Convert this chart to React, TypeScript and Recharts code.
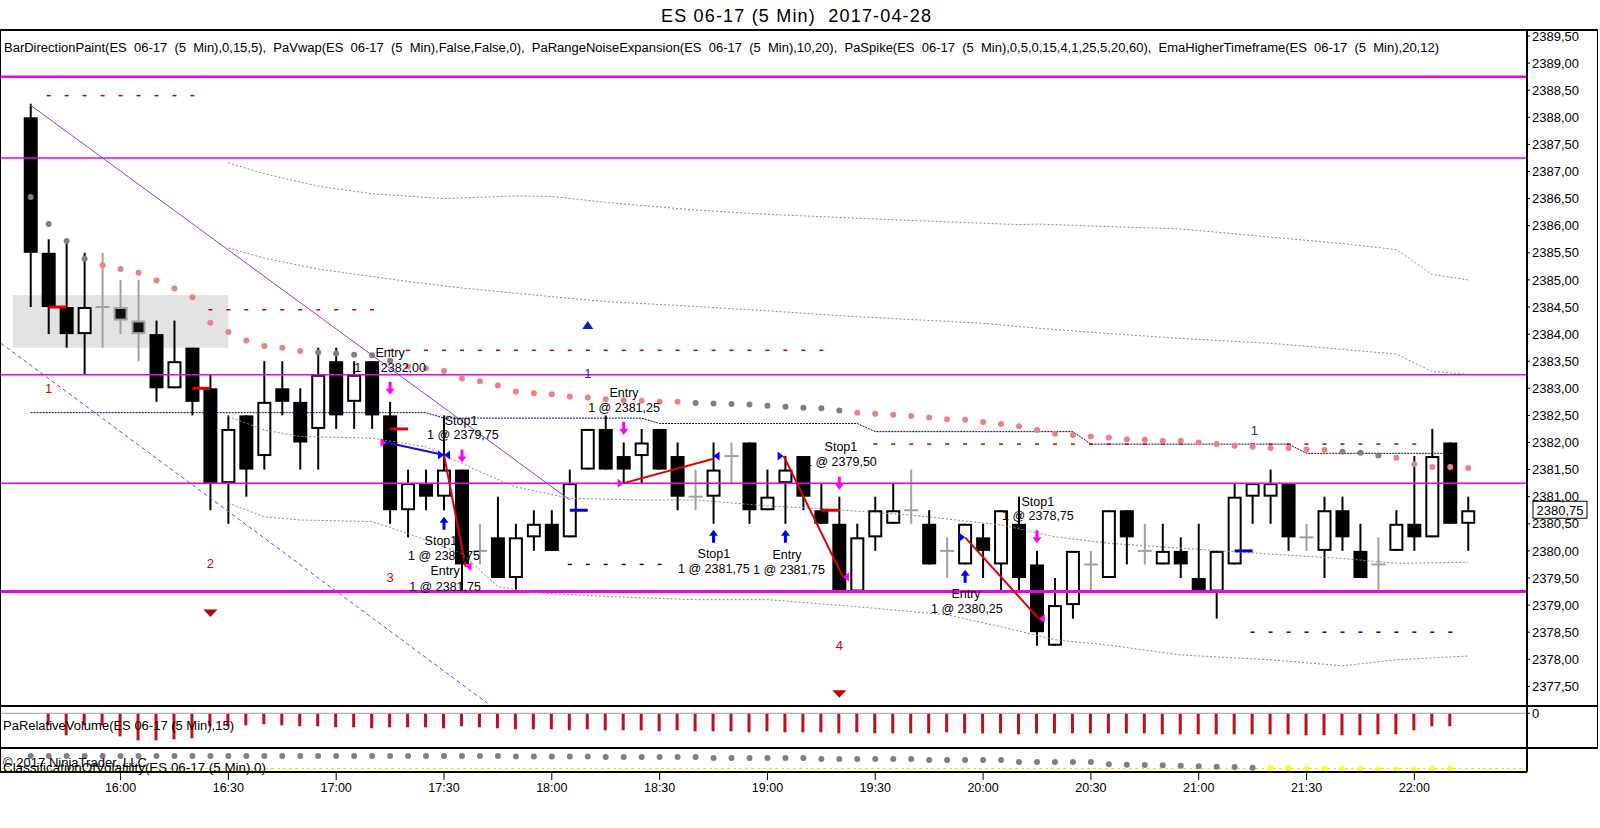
import React from 'react';
import {
  ComposedChart, Bar, Line, Scatter, XAxis, YAxis,
  ReferenceLine, ReferenceArea, ReferenceDot,
} from 'recharts';

const FONT = 'Arial, "Liberation Sans", Helvetica, sans-serif';

// ---------- categories ----------
const barTimes = [
  '15:35', '15:40', '15:45', '15:50', '15:55',
  '16:00', '16:05', '16:10', '16:15', '16:20', '16:25', '16:30', '16:35', '16:40', '16:45', '16:50', '16:55',
  '17:00', '17:05', '17:10', '17:15', '17:20', '17:25', '17:30', '17:35', '17:40', '17:45', '17:50', '17:55',
  '18:00', '18:05', '18:10', '18:15', '18:20', '18:25', '18:30', '18:35', '18:40', '18:45', '18:50', '18:55',
  '19:00', '19:05', '19:10', '19:15', '19:20', '19:25', '19:30', '19:35', '19:40', '19:45', '19:50', '19:55',
  '20:00', '20:05', '20:10', '20:15', '20:20', '20:25', '20:30', '20:35', '20:40', '20:45', '20:50', '20:55',
  '21:00', '21:05', '21:10', '21:15', '21:20', '21:25', '21:30', '21:35', '21:40', '21:45', '21:50', '21:55',
  '22:00', '22:05', '22:10', '22:15',
];
const timeTicks = [6, 12, 18, 24, 30, 36, 42, 48, 54, 60, 66, 72, 78];
const priceTicks = [
  2377.5, 2378, 2378.5, 2379, 2379.5, 2380, 2380.5, 2381, 2381.5, 2382, 2382.5, 2383, 2383.5,
  2384, 2384.5, 2385, 2385.5, 2386, 2386.5, 2387, 2387.5, 2388, 2388.5, 2389, 2389.5,
];

// ---------- OHLC ----------
const opens = [
  2388, 2385.5, 2384.5, 2384, 2384.5, 2384.5, 2384.25, 2384, 2383, 2383.75,
  2383, 2381.25, 2382.5, 2381.75, 2383, 2382.75, 2382.25, 2383.5, 2382.75, 2383.5,
  2382.5, 2380.75, 2381.25, 2381, 2381.5, 2380, 2380.25, 2379.5, 2380.25, 2380.5,
  2380.25, 2381.5, 2382.25, 2381.75, 2381.75, 2382.25, 2381.75, 2381, 2381, 2381.75,
  2382, 2380.75, 2381.25, 2381.75, 2380.75, 2380.5, 2379.25, 2380.25, 2380.5, 2380.75,
  2380.5, 2380, 2379.75, 2380.25, 2379.75, 2380.5, 2379.75, 2378.25, 2379, 2379.75,
  2379.5, 2380.75, 2380, 2379.75, 2380, 2379.5, 2379.25, 2379.75, 2381, 2381,
  2381.25, 2380.25, 2380, 2380.75, 2380, 2379.75, 2380, 2380.5, 2380.25, 2382, 2380.5,
];
const highs = [
  2388.25, 2385.75, 2385.75, 2385.5, 2385.5, 2385, 2385, 2384.25, 2384.25, 2383.75,
  2383.25, 2382.5, 2382.5, 2383.5, 2383.5, 2383, 2383.75, 2383.75, 2383.5, 2383.5,
  2382.75, 2381.5, 2381.5, 2382.5, 2381.5, 2380.5, 2381, 2380.5, 2380.75, 2380.75,
  2381.5, 2382.25, 2382.5, 2382, 2382.25, 2382.25, 2382, 2381.5, 2382, 2382,
  2382, 2381.5, 2381.75, 2381.75, 2381.25, 2381, 2380.5, 2381, 2381.25, 2381.5,
  2380.75, 2380.25, 2380.5, 2380.5, 2380.75, 2381, 2380, 2379.5, 2380, 2380,
  2380.75, 2380.75, 2380.5, 2380.5, 2380.25, 2380.5, 2380, 2381.25, 2381.25, 2381.5,
  2381.25, 2380.5, 2381, 2381, 2380.5, 2380.25, 2380.75, 2381.75, 2382.25, 2382, 2381,
];
const lows = [
  2384.5, 2384, 2383.75, 2383.25, 2383.75, 2384, 2383.5, 2382.75, 2383, 2382.5,
  2380.75, 2380.5, 2381, 2381.5, 2382.5, 2381.5, 2381.5, 2382.25, 2382.25, 2382.25,
  2380.5, 2380.25, 2380.75, 2380.75, 2379.25, 2379.75, 2379.5, 2379.25, 2380, 2380,
  2380.25, 2381.5, 2381.5, 2381.25, 2381.25, 2381.5, 2380.75, 2380.75, 2380.5, 2381.25,
  2380.5, 2380.75, 2380.5, 2380.75, 2380.5, 2379.25, 2379.25, 2380, 2380.5, 2380.5,
  2379.75, 2379.5, 2379.75, 2379.5, 2379.25, 2379.25, 2378.25, 2378.25, 2378.75, 2379.25,
  2379.5, 2379.75, 2379.75, 2379.75, 2379.5, 2379.25, 2378.75, 2379.75, 2380.5, 2380.5,
  2380, 2380, 2379.5, 2380, 2379.5, 2379.25, 2380, 2380, 2380.25, 2380.5, 2380,
];
const closes = [
  2385.5, 2384.5, 2384, 2384.5, 2384.5, 2384.25, 2384, 2383, 2383.5, 2382.75,
  2381.25, 2382.25, 2381.5, 2382.75, 2382.75, 2382, 2383.25, 2382.5, 2383.25, 2382.5,
  2380.75, 2381.25, 2381, 2381.5, 2379.75, 2380, 2379.5, 2380.25, 2380.5, 2380,
  2381.25, 2382.25, 2381.5, 2381.5, 2382, 2381.5, 2381, 2381, 2381.5, 2381.75,
  2380.75, 2381, 2381.5, 2381, 2380.5, 2379.25, 2380.25, 2380.75, 2380.75, 2380.75,
  2379.75, 2380, 2380.5, 2380, 2380.75, 2379.5, 2378.5, 2379, 2380, 2379.75,
  2380.75, 2380.25, 2380, 2380, 2379.75, 2379.25, 2380, 2381, 2381.25, 2381.25,
  2380.25, 2380.25, 2380.75, 2380.25, 2379.5, 2379.75, 2380.5, 2380.25, 2381.75, 2380.5, 2380.75,
];
const grayPaintBars = [6, 7];

// ---------- EmaHigherTimeframe dots ----------
const emaValues = [
  2386.53, 2386.03, 2385.72, 2385.39, 2385.27, 2385.20, 2385.13, 2384.99, 2384.84, 2384.68,
  2384.21, 2384.04, 2383.88, 2383.78, 2383.75, 2383.69, 2383.66, 2383.64, 2383.62, 2383.61,
  2383.51, 2383.40, 2383.37, 2383.32, 2383.18, 2383.13, 2383.05, 2382.94, 2382.91, 2382.89,
  2382.85, 2382.83, 2382.80, 2382.78, 2382.77, 2382.75, 2382.75, 2382.73, 2382.72, 2382.71,
  2382.70, 2382.68, 2382.66, 2382.64, 2382.63, 2382.59, 2382.55, 2382.53, 2382.51, 2382.49,
  2382.46, 2382.43, 2382.42, 2382.38, 2382.34, 2382.30, 2382.23, 2382.16, 2382.14, 2382.11,
  2382.09, 2382.06, 2382.05, 2382.03, 2382.03, 2382.00, 2381.97, 2381.94, 2381.92, 2381.90,
  2381.90, 2381.87, 2381.86, 2381.83, 2381.81, 2381.76, 2381.72, 2381.60, 2381.55, 2381.55, 2381.53,
];
const emaGrayBars = [1, 2, 3, 4, 17, 18, 19, 20, 21, 38, 39, 40, 41, 42, 43, 44, 45, 46, 74, 75, 76];

// ---------- higher-timeframe dotted step line ----------
const htfSteps = [
  { from: 1, to: 23, v: 2382.55 },
  { from: 24, to: 35, v: 2382.45 },
  { from: 36, to: 47, v: 2382.35 },
  { from: 48, to: 59, v: 2382.2 },
  { from: 60, to: 71, v: 2381.97 },
  { from: 72, to: 80, v: 2381.8 },
];

// ---------- VWAP and bands (bar, price) ----------
const bandUpper2: [number, number][] = [
  [12, 2387.16], [14, 2386.96], [17, 2386.73], [20, 2386.59], [24, 2386.5], [28, 2386.55], [30, 2386.54],
  [33, 2386.43], [38, 2386.29], [42, 2386.21], [49, 2386.11], [56, 2386.02], [57, 2386.03], [65, 2385.94],
  [70, 2385.79], [74, 2385.67], [77, 2385.56], [79, 2385.1], [81, 2385.0],
];
const bandUpper1: [number, number][] = [
  [12, 2385.59], [14, 2385.4], [17, 2385.2], [22, 2384.97], [25, 2384.85], [30, 2384.69], [33, 2384.6],
  [38, 2384.51], [42, 2384.43], [47, 2384.32], [54, 2384.2], [57, 2384.11], [61, 2384.01], [65, 2383.92],
  [70, 2383.83], [74, 2383.72], [77, 2383.63], [79, 2383.31], [81, 2383.26],
];
const vwapLine: [number, number][] = [
  [12, 2382.48], [14, 2382.23], [16, 2382.11], [20, 2382.08], [23, 2381.92], [26, 2381.46], [28, 2381.18],
  [31, 2380.97], [35, 2380.94], [38, 2380.94], [42, 2380.83], [45, 2380.78], [50, 2380.66], [55, 2380.48],
  [58, 2380.26], [61, 2380.14], [65, 2380.05], [70, 2379.94], [74, 2379.86], [77, 2379.77], [81, 2379.79],
];
const bandLower1: [number, number][] = [
  [12, 2380.88], [14, 2380.63], [16, 2380.57], [20, 2380.54], [22, 2380.32], [25, 2379.95], [27, 2379.34],
  [29, 2379.23], [33, 2379.16], [38, 2379.1], [42, 2379.1], [47, 2378.97], [52, 2378.82], [55, 2378.6],
  [58, 2378.36], [61, 2378.26], [65, 2378.08], [70, 2377.99], [74, 2377.88], [77, 2377.99], [81, 2378.06],
];

// ---------- levels & dashed level markers ----------
const magentaLevels = [2388.75, 2387.25, 2383.25, 2381.25, 2379.25];
const magentaWidths = [2.5, 1.5, 1.5, 1.5, 3];
const dashLevels = [
  { from: 2, to: 10, p: 2388.4, color: '#C00000' },
  { from: 11, to: 20, p: 2384.45, color: '#C00000' },
  { from: 21, to: 45, p: 2383.7, color: '#C00000' },
  { from: 48, to: 78, p: 2381.97, color: '#C00000' },
  { from: 31, to: 36, p: 2379.75, color: '#000080' },
  { from: 69, to: 80, p: 2378.5, color: '#000080' },
];
const openingRange = { from: 0, to: 12, low: 2383.75, high: 2384.72 };

// trend lines (bar, price)
const trendSolid = [{ i: 0.96, p: 2388.23 }, { i: 31.0, p: 2380.94 }];
const trendDashed = [{ i: -0.65, p: 2383.83 }, { i: 26.42, p: 2377.19 }];

// short horizontal ticks from bar i to bar i+1
const redTicks = [{ i: 2, p: 2384.5 }, { i: 10, p: 2383.0 }, { i: 21, p: 2382.25 }, { i: 45, p: 2380.75 }];
const blueTicks = [{ i: 31, p: 2380.75 }, { i: 68, p: 2380.0 }];

// ---------- trades ----------
const tradeSegments = [
  { i1: 20.8, p1: 2382.0, i2: 24, p2: 2381.77, color: '#1010E0' },
  { i1: 24, p1: 2381.77, i2: 25.2, p2: 2379.71, color: '#E00000' },
  { i1: 34, p1: 2381.25, i2: 39, p2: 2381.7, color: '#E00000' },
  { i1: 42.9, p1: 2381.75, i2: 46.2, p2: 2379.52, color: '#E00000' },
  { i1: 53, p1: 2380.25, i2: 57.1, p2: 2378.75, color: '#E00000' },
];
const tradeMarkers = [
  { i: 20.8, p: 2382.0, dir: 'r', color: '#FF00FF' },
  { i: 24, p: 2381.77, dir: 'r', color: '#0000FF' },
  { i: 24, p: 2381.77, dir: 'l', color: '#0000FF' },
  { i: 25.2, p: 2379.71, dir: 'l', color: '#FF00FF' },
  { i: 34, p: 2381.25, dir: 'r', color: '#FF00FF' },
  { i: 39, p: 2381.75, dir: 'l', color: '#0000FF' },
  { i: 42.9, p: 2381.75, dir: 'r', color: '#0000FF' },
  { i: 46.2, p: 2379.52, dir: 'l', color: '#FF00FF' },
  { i: 53, p: 2380.25, dir: 'r', color: '#0000FF' },
  { i: 57.1, p: 2378.75, dir: 'l', color: '#FF00FF' },
];
const arrowsDown = [
  { i: 21, p: 2383.0 }, { i: 25, p: 2381.75 }, { i: 34, p: 2382.26 }, { i: 46, p: 2381.25 }, { i: 57, p: 2380.26 },
];
const arrowsUp = [
  { i: 24, p: 2380.51 }, { i: 39, p: 2380.27 }, { i: 43, p: 2380.27 }, { i: 53, p: 2379.53 },
];
const tradeNotes = [
  { i: 21.0, p: 2383.65, t: 'Entry' },
  { i: 21.0, p: 2383.37, t: '1 @ 2382,00' },
  { i: 24.95, p: 2382.4, t: 'Stop1' },
  { i: 25.05, p: 2382.14, t: '1 @ 2379,75' },
  { i: 23.83, p: 2380.18, t: 'Stop1' },
  { i: 24.0, p: 2379.91, t: '1 @ 2381,75' },
  { i: 24.06, p: 2379.63, t: 'Entry' },
  { i: 24.06, p: 2379.33, t: '1 @ 2381,75' },
  { i: 34.02, p: 2382.91, t: 'Entry' },
  { i: 34.02, p: 2382.64, t: '1 @ 2381,25' },
  { i: 39.02, p: 2379.94, t: 'Stop1' },
  { i: 39.02, p: 2379.67, t: '1 @ 2381,75' },
  { i: 43.09, p: 2379.92, t: 'Entry' },
  { i: 43.2, p: 2379.65, t: '1 @ 2381,75' },
  { i: 46.09, p: 2381.92, t: 'Stop1' },
  { i: 46.09, p: 2381.64, t: '1 @ 2379,50' },
  { i: 53.05, p: 2379.2, t: 'Entry' },
  { i: 53.1, p: 2378.93, t: '1 @ 2380,25' },
  { i: 57.05, p: 2380.9, t: 'Stop1' },
  { i: 57.05, p: 2380.64, t: '1 @ 2378,75' },
];
const spikeCounts = [
  { i: 2, p: 2382.99, t: '1' }, { i: 11, p: 2379.76, t: '2' }, { i: 21, p: 2379.51, t: '3' }, { i: 46, p: 2378.25, t: '4' },
];
const blueCounts = [{ i: 32, p: 2383.28, t: '1' }, { i: 69.1, p: 2382.23, t: '1' }];
const redTriangles = [{ i: 11, p: 2378.85 }, { i: 46, p: 2377.36 }];
const blueTriangles = [{ i: 32, p: 2384.17 }];

// ---------- lower panels ----------
const relVolume = [
  null, -12, -22, -12, -12, -23, -27, -27, -26, -25,
  -13, -13, -12, -11, -12, -13, -13, -14, -14, -15,
  -14, -14, -14, -15, -13, -14, -15, -16, -16, -16,
  -17, -16, -17, -17, -17, -18, -17, -18, -18, -18,
  -19, -18, -19, -19, -19, -20, -19, -20, -20, -20,
  -20, -19, -20, -20, -20, -21, -20, -20, -20, -20,
  -20, -20, -20, -21, -21, -21, -21, -21, -21, -21,
  -21, -22, -22, -22, -22, -21, -21, -17, -13, -13, null,
];
const volatilityClass = [
  16, 16, 16, 16, 16, 16, 16, 16, 16, 16,
  16, 16, 16, 16, 16, 16, 16, 16, 16, 16,
  16, 16, 16, 16, 16, 16, 16, 15.5, 15.5, 15.5,
  15.5, 15.5, 15, 15, 15, 15, 15, 15, 14, 14,
  14, 14, 14, 14, 13, 13, 13, 13, 13, 13,
  12, 12, 12, 12, 12, 10, 10, 10, 10, 10,
  7.7, 7.3, 7, 6.7, 6.3, 5.7, 5.3, 5, 4.3, 3.7,
  3.7, 2.7, 2.7, 2.7, 2.7, 2.3, 2.3, 2.3, 2.7, 2.7, null,
];
const yellowFromBar = 70;

// ---------- derived tables ----------
const X_DOMAIN: [number, number] = [-0.653, 84.27];
const Y_DOMAIN: [number, number] = [2377.138, 2389.611];

const candles = barTimes.map((t, k) => ({
  i: k + 1, t, o: opens[k], h: highs[k], l: lows[k], c: closes[k], g: grayPaintBars.includes(k + 1),
}));
const emaPts = emaValues.map((v, k) => ({ i: k + 1, v, col: emaGrayBars.includes(k + 1) ? '#808080' : '#F08080' }));
const htfPts: { i: number; v: number }[] = [];
htfSteps.forEach((s) => { for (let b = s.from; b <= s.to; b++) htfPts.push({ i: b, v: s.v }); });
const dashPts: { i: number; v: number; col: string }[] = [];
dashLevels.forEach((d) => { for (let b = d.from; b <= d.to; b++) dashPts.push({ i: b, v: d.p, col: d.color }); });
const toPts = (arr: [number, number][]) => arr.map(([i, v]) => ({ i, v }));
const volPts = relVolume.map((v, k) => ({ i: k + 1, v })).filter((d) => d.v !== null);
const clsPts = volatilityClass
  .map((v, k) => ({ i: k + 1, v, col: k + 1 >= yellowFromBar ? '#FFFF00' : '#808080' }))
  .filter((d) => d.v !== null);

const fmtPrice = (v: number) => v.toFixed(2).replace('.', ',');
const fmtTime = (v: number) => barTimes[Math.round(v) - 1] || '';

// ---------- shapes ----------
function CandleShape(props: any) {
  const { x, y, width, height, payload } = props;
  if (!payload || !isFinite(x) || !isFinite(y)) return null;
  const top = Math.min(y, y + height);
  const span = Math.abs(height);
  const { o, h, l, c, g } = payload;
  const cx = x + width / 2;
  const py = (p: number) => top + ((h - p) / (h - l)) * span;
  const yO = py(o);
  const yC = py(c);
  const yH = top;
  const yL = top + span;
  const half = 7;
  if (o === c) {
    return (
      <g>
        <line x1={cx} x2={cx} y1={yH} y2={yL} stroke="#A0A0A0" strokeWidth={2} />
        <line x1={cx - half} x2={cx + half} y1={yO} y2={yO} stroke="#A0A0A0" strokeWidth={2} />
      </g>
    );
  }
  if (c > o) {
    return (
      <g>
        <line x1={cx} x2={cx} y1={yH} y2={yL} stroke="#000" strokeWidth={2} />
        <rect x={cx - half + 1} y={yC + 1} width={2 * half - 2} height={Math.max(0, yO - yC - 2)} fill="#fff" stroke="#000" strokeWidth={2} />
      </g>
    );
  }
  const wc = g ? '#A0A0A0' : '#000';
  return (
    <g>
      <line x1={cx} x2={cx} y1={yH} y2={yL} stroke={wc} strokeWidth={2} />
      {g ? (
        <rect x={cx - half + 1} y={yO + 1} width={2 * half - 2} height={Math.max(0, yC - yO - 2)} fill="#111" stroke={wc} strokeWidth={2} />
      ) : (
        <rect x={cx - half} y={yO} width={2 * half} height={yC - yO} fill="#000" />
      )}
    </g>
  );
}

const DotShape = (r: number) => (p: any) =>
  isFinite(p.cx) && isFinite(p.cy) ? <circle cx={p.cx} cy={p.cy} r={r} fill={p.payload?.col || '#808080'} /> : <g />;

const DashShape = (p: any) =>
  isFinite(p.cx) && isFinite(p.cy) ? (
    <line x1={p.cx - 2} x2={p.cx + 2} y1={p.cy} y2={p.cy} stroke={p.payload?.col || '#C00000'} strokeWidth={1.5} />
  ) : <g />;

const textShape = (t: string, color: string, size: number) => (p: any) => (
  <text x={p.cx} y={p.cy} textAnchor="middle" dominantBaseline="central" fill={color} fontSize={size} fontFamily={FONT}>
    {t}
  </text>
);

const triDown = (color: string, w: number, h: number) => (p: any) => (
  <path d={`M${p.cx - w / 2},${p.cy - h / 2} L${p.cx + w / 2},${p.cy - h / 2} L${p.cx},${p.cy + h / 2} Z`} fill={color} stroke={color} strokeWidth={0.5} />
);
const triUp = (color: string, w: number, h: number) => (p: any) => (
  <path d={`M${p.cx - w / 2},${p.cy + h / 2} L${p.cx + w / 2},${p.cy + h / 2} L${p.cx},${p.cy - h / 2} Z`} fill={color} />
);
const sideTri = (dir: string, color: string) => (p: any) =>
  dir === 'r' ? (
    <path d={`M${p.cx - 6},${p.cy - 4.5} L${p.cx},${p.cy} L${p.cx - 6},${p.cy + 4.5} Z`} fill={color} />
  ) : (
    <path d={`M${p.cx + 6},${p.cy - 4.5} L${p.cx},${p.cy} L${p.cx + 6},${p.cy + 4.5} Z`} fill={color} />
  );
const arrowShape = (down: boolean, color: string) => (p: any) => {
  const { cx, cy } = p;
  if (down) {
    return (
      <g>
        <rect x={cx - 1.5} y={cy - 6.5} width={3} height={8} fill={color} />
        <path d={`M${cx - 4.5},${cy + 0.5} L${cx + 4.5},${cy + 0.5} L${cx},${cy + 6.5} Z`} fill={color} />
      </g>
    );
  }
  return (
    <g>
      <rect x={cx - 1.5} y={cy - 1.5} width={3} height={8} fill={color} />
      <path d={`M${cx - 4.5},${cy - 0.5} L${cx + 4.5},${cy - 0.5} L${cx},${cy - 6.5} Z`} fill={color} />
    </g>
  );
};
const priceBox = (label: string) => (p: any) => (
  <g>
    <rect x={p.cx + 6} y={p.cy - 9} width={54} height={17} fill="#fff" stroke="#000" strokeWidth={1} />
    <text x={p.cx + 33} y={p.cy} textAnchor="middle" dominantBaseline="central" fontSize={13} fontFamily={FONT} fill="#000">{label}</text>
  </g>
);

const tickStyle = { fill: '#000', fontSize: 13, fontFamily: FONT };
const grayBand = { stroke: '#8C8C8C', strokeWidth: 1, strokeDasharray: '2 2' };

export default function App() {
  const last = candles[candles.length - 1];
  return (
    <div style={{ position: 'absolute', left: 0, top: 0, width: 1600, height: 828, background: '#fff', fontFamily: FONT, overflow: 'hidden' }}>
      {/* main price panel */}
      <div style={{ position: 'absolute', left: 0, top: 0 }}>
        <ComposedChart width={1600} height={708} data={candles} margin={{ top: 30, right: 3, bottom: 2, left: 1 }}>
          <XAxis type="number" dataKey="i" domain={X_DOMAIN} allowDataOverflow hide />
          <YAxis
            orientation="right" type="number" domain={Y_DOMAIN} allowDataOverflow ticks={priceTicks} interval={0}
            tickFormatter={fmtPrice} width={70} tickSize={3} tickMargin={2}
            axisLine={{ stroke: '#000' }} tickLine={{ stroke: '#000' }} tick={tickStyle}
          />
          <ReferenceArea x1={openingRange.from} x2={openingRange.to} y1={openingRange.low} y2={openingRange.high} fill="#E3E3E3" fillOpacity={1} stroke="none" />
          {magentaLevels.map((p, k) => (
            <ReferenceLine key={'m' + k} y={p} stroke="#EE00EE" strokeWidth={magentaWidths[k]} />
          ))}
          <Line data={toPts(bandUpper2)} dataKey="v" {...grayBand} dot={false} isAnimationActive={false} />
          <Line data={toPts(bandUpper1)} dataKey="v" {...grayBand} dot={false} isAnimationActive={false} />
          <Line data={toPts(vwapLine)} dataKey="v" {...grayBand} dot={false} isAnimationActive={false} />
          <Line data={toPts(bandLower1)} dataKey="v" {...grayBand} dot={false} isAnimationActive={false} />
          <Line data={htfPts} dataKey="v" stroke="#000080" strokeWidth={1} strokeDasharray="2 1" dot={false} isAnimationActive={false} />
          <ReferenceLine segment={[{ x: trendSolid[0].i, y: trendSolid[0].p }, { x: trendSolid[1].i, y: trendSolid[1].p }]} stroke="#8A3BE8" strokeWidth={1} ifOverflow="visible" />
          <ReferenceLine segment={[{ x: trendDashed[0].i, y: trendDashed[0].p }, { x: trendDashed[1].i, y: trendDashed[1].p }]} stroke="#8A3BE8" strokeWidth={1} strokeDasharray="4 3" ifOverflow="visible" />
          <Scatter data={dashPts} dataKey="v" shape={DashShape} isAnimationActive={false} />
          <Bar dataKey={(d: any) => [d.l, d.h]} barSize={14} shape={CandleShape} isAnimationActive={false} />
          {redTicks.map((d, k) => (
            <ReferenceLine key={'rt' + k} segment={[{ x: d.i, y: d.p }, { x: d.i + 1, y: d.p }]} stroke="#E00000" strokeWidth={3} />
          ))}
          {blueTicks.map((d, k) => (
            <ReferenceLine key={'bt' + k} segment={[{ x: d.i, y: d.p }, { x: d.i + 1, y: d.p }]} stroke="#0000E0" strokeWidth={3} />
          ))}
          <Scatter data={emaPts} dataKey="v" shape={DotShape(3)} isAnimationActive={false} />
          {tradeSegments.map((s, k) => (
            <ReferenceLine key={'ts' + k} segment={[{ x: s.i1, y: s.p1 }, { x: s.i2, y: s.p2 }]} stroke={s.color} strokeWidth={2} />
          ))}
          {tradeMarkers.map((m, k) => (
            <ReferenceDot key={'tm' + k} x={m.i} y={m.p} r={1} shape={sideTri(m.dir, m.color)} ifOverflow="visible" />
          ))}
          {arrowsDown.map((a, k) => (
            <ReferenceDot key={'ad' + k} x={a.i} y={a.p} r={1} shape={arrowShape(true, '#FF00FF')} ifOverflow="visible" />
          ))}
          {arrowsUp.map((a, k) => (
            <ReferenceDot key={'au' + k} x={a.i} y={a.p} r={1} shape={arrowShape(false, '#0000FF')} ifOverflow="visible" />
          ))}
          {redTriangles.map((a, k) => (
            <ReferenceDot key={'rtr' + k} x={a.i} y={a.p} r={1} shape={triDown('#C00000', 13, 7)} ifOverflow="visible" />
          ))}
          {blueTriangles.map((a, k) => (
            <ReferenceDot key={'btr' + k} x={a.i} y={a.p} r={1} shape={triUp('#1414C8', 11, 8)} ifOverflow="visible" />
          ))}
          {tradeNotes.map((n, k) => (
            <ReferenceDot key={'tn' + k} x={n.i} y={n.p} r={1} shape={textShape(n.t, '#000', 12.5)} ifOverflow="visible" />
          ))}
          {spikeCounts.map((n, k) => (
            <ReferenceDot key={'sc' + k} x={n.i} y={n.p} r={1} shape={textShape(n.t, '#E00000', 13)} ifOverflow="visible" />
          ))}
          {blueCounts.map((n, k) => (
            <ReferenceDot key={'bc' + k} x={n.i} y={n.p} r={1} shape={textShape(n.t, '#2828C8', 13)} ifOverflow="visible" />
          ))}
          <ReferenceDot x={X_DOMAIN[1]} y={last.c} r={1} shape={priceBox(fmtPrice(last.c))} ifOverflow="visible" />
        </ComposedChart>
      </div>

      {/* relative volume panel */}
      <div style={{ position: 'absolute', left: 0, top: 706 }}>
        <ComposedChart width={1600} height={42} data={volPts} margin={{ top: 0, right: 3, bottom: 0, left: 1 }}>
          <XAxis type="number" dataKey="i" domain={X_DOMAIN} allowDataOverflow hide />
          <YAxis
            orientation="right" type="number" domain={[-34.7, 7.3]} allowDataOverflow ticks={[0]} interval={0}
            width={70} tickSize={3} tickMargin={2} axisLine={{ stroke: '#000' }} tickLine={{ stroke: '#000' }} tick={tickStyle}
          />
          <ReferenceLine y={0} stroke="#A0A0A0" strokeWidth={1} />
          <Bar dataKey="v" barSize={3} fill="#C0101C" isAnimationActive={false} />
        </ComposedChart>
      </div>

      {/* volatility classification panel + time axis */}
      <div style={{ position: 'absolute', left: 0, top: 748 }}>
        <ComposedChart width={1600} height={64} data={clsPts} margin={{ top: 0, right: 73, bottom: 0, left: 1 }}>
          <XAxis
            type="number" dataKey="i" domain={X_DOMAIN} allowDataOverflow ticks={timeTicks} interval={0}
            tickFormatter={fmtTime} height={40} tickSize={8} tickMargin={3}
            axisLine={{ stroke: '#000' }} tickLine={{ stroke: '#000' }} tick={{ fill: '#000', fontSize: 12.5, fontFamily: FONT }}
          />
          <YAxis type="number" domain={[0, 24]} allowDataOverflow hide />
          <ReferenceLine y={3.5} stroke="#E6E600" strokeWidth={1} strokeDasharray="3 3" />
          <Scatter dataKey="v" shape={DotShape(3)} isAnimationActive={false} />
        </ComposedChart>
      </div>

      {/* frame, title and panel captions */}
      <svg width={1600} height={828} style={{ position: 'absolute', left: 0, top: 0, pointerEvents: 'none' }}>
        <text x={661} y={16} fontSize={18} fontFamily={FONT} fill="#000" dominantBaseline="central" textLength={270} lengthAdjust="spacing" style={{ whiteSpace: 'pre' }}>
          {'ES 06-17 (5 Min)  2017-04-28'}
        </text>
        <text x={4} y={48} fontSize={12} fontFamily={FONT} fill="#000" dominantBaseline="central" textLength={1435} lengthAdjust="spacingAndGlyphs" style={{ whiteSpace: 'pre' }}>
          {'BarDirectionPaint(ES  06-17  (5  Min),0,15,5),  PaVwap(ES  06-17  (5  Min),False,False,0),  PaRangeNoiseExpansion(ES  06-17  (5  Min),10,20),  PaSpike(ES  06-17  (5  Min),0,5,0,15,4,1,25,5,20,60),  EmaHigherTimeframe(ES  06-17  (5  Min),20,12)'}
        </text>
        <text x={3} y={726} fontSize={12.5} fontFamily={FONT} fill="#000" dominantBaseline="central" textLength={231} lengthAdjust="spacingAndGlyphs">
          PaRelativeVolume(ES 06-17 (5 Min),15)
        </text>
        <text x={3} y={763} fontSize={12.5} fontFamily={FONT} fill="#000" dominantBaseline="central" textLength={144} lengthAdjust="spacingAndGlyphs">
          © 2017 NinjaTrader, LLC
        </text>
        <text x={3} y={768} fontSize={12.5} fontFamily={FONT} fill="#000" dominantBaseline="central" textLength={263} lengthAdjust="spacingAndGlyphs">
          ClassificationOfVolatility(ES 06-17 (5 Min),0)
        </text>
        <g stroke="#000" strokeWidth={1.2} fill="none" shapeRendering="crispEdges">
          <line x1={0} x2={1598} y1={30} y2={30} />
          <line x1={0} x2={1598} y1={706} y2={706} />
          <line x1={0} x2={1598} y1={748} y2={748} />
          <line x1={0} x2={1527} y1={772} y2={772} />
          <line x1={0.5} x2={0.5} y1={30} y2={772} />
          <line x1={1527} x2={1527} y1={30} y2={772} />
          <line x1={1597.5} x2={1597.5} y1={30} y2={748} />
        </g>
      </svg>
    </div>
  );
}
